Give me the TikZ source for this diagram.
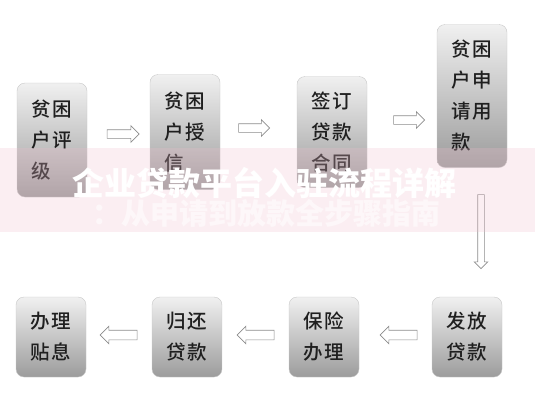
\documentclass[tikz,border=0pt]{standalone}
\usepackage{fontspec}
\usepackage{xcolor}
\usetikzlibrary{shapes.arrows}
\setmainfont{Noto Sans CJK SC}[BoldFont={Noto Sans CJK SC Black}]
\newfontfamily\boxfont[LetterSpace=10]{Noto Sans CJK SC Medium}
\definecolor{boxtop}{HTML}{F0F0F0}
\definecolor{boxbot}{HTML}{9C9C9C}
\definecolor{boxedge}{HTML}{C8C8C8}
\definecolor{arrowline}{HTML}{8C8C8C}
\definecolor{band}{RGB}{240,190,205}
\tikzset{
  stepbox/.style={rounded corners=8pt, top color=boxtop, bottom color=boxbot,
    draw=boxedge, line width=0.4pt, minimum width=70pt, inner sep=0pt, align=left,
    font=\boxfont\fontsize{19.5}{31}\selectfont, text=black!88},
  blockarrow/.style={single arrow, draw=arrowline, fill=white, line width=0.6pt,
    inner sep=4pt, single arrow head extend=4pt, single arrow head indent=0pt,
    minimum height=#1},
}
\begin{document}
\begin{tikzpicture}[x=1pt,y=-1pt]
\useasboundingbox (0,0) rectangle (535,400);
% top row
\node[stepbox, minimum height=114pt] (pingji) at (52,140) {贫困\\户评\\级};
\node[stepbox, minimum height=115pt] (shouxin) at (185,132) {贫困\\户授\\信};
\node[stepbox, minimum height=111pt] (hetong) at (332,132) {签订\\贷款\\合同};
\node[stepbox, minimum height=143pt] (yongkuan) at (472,96) {贫困\\户申\\请用\\款};
% bottom row
\node[stepbox, minimum height=80pt] (fangkuan) at (467,337) {发放\\贷款};
\node[stepbox, minimum height=80pt] (baoxian) at (324,337) {保险\\办理};
\node[stepbox, minimum height=80pt] (guihuan) at (187,337) {归还\\贷款};
\node[stepbox, minimum height=80pt] (tiexi) at (51,337) {办理\\贴息};
% arrows
\node[blockarrow=32pt] (a1) at (121,134) {};
\node[blockarrow=31pt] (a2) at (252,128) {};
\node[blockarrow=31pt] (a3) at (407,120) {};
\node[blockarrow=74pt, shape border rotate=270, inner sep=3pt, single arrow head extend=3.5pt] (a4) at (481,230) {};
\node[blockarrow=37pt, shape border rotate=180, inner sep=4.5pt] (a5) at (401,335) {};
\node[blockarrow=37pt, shape border rotate=180, inner sep=4.5pt] (a6) at (258,335) {};
\node[blockarrow=37pt, shape border rotate=180, inner sep=4.5pt] (a7) at (121,335) {};
% watermark band
\fill[band, opacity=0.26] (0,148) rectangle (535,232);
\node[font=\fontsize{32}{32}\selectfont\bfseries, text=white] (wm1) at (264,183) {企业贷款平台入驻流程详解};
\node[font=\fontsize{29}{29}\selectfont\bfseries, text=white, text opacity=0.55] (wm2) at (266,213) {：从申请到放款全步骤指南};
\end{tikzpicture}
\end{document}
